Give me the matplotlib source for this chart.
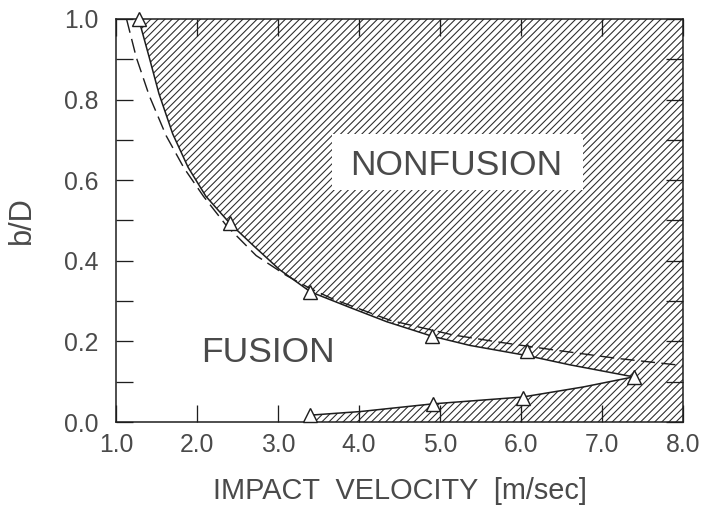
import matplotlib
matplotlib.use("Agg")
import matplotlib.pyplot as plt
from matplotlib.patches import Rectangle
from matplotlib.ticker import MultipleLocator, FormatStrFormatter

# ---- data ----
# measured points (triangles)
upper_pts_v = [1.28, 2.41, 3.40, 4.90, 6.07, 7.39]
upper_pts_b = [1.00, 0.495, 0.323, 0.214, 0.176, 0.112]
lower_pts_v = [3.40, 4.91, 6.02]
lower_pts_b = [0.017, 0.045, 0.059]

# solid boundary curve (upper branch)
upper_curve_v = [1.28, 1.41, 1.53, 1.70, 1.89, 2.11, 2.41, 2.70, 3.02, 3.40,
                 3.89, 4.34, 4.90, 5.37, 6.07, 6.60, 7.39]
upper_curve_b = [1.00, 0.905, 0.815, 0.715, 0.632, 0.560, 0.492, 0.437, 0.378, 0.323,
                 0.284, 0.249, 0.213, 0.190, 0.165, 0.142, 0.112]
# solid boundary curve (lower branch)
lower_curve_v = [3.40, 4.02, 4.91, 6.02, 6.77, 7.39]
lower_curve_b = [0.017, 0.026, 0.045, 0.062, 0.087, 0.112]
# dashed curve
dashed_v = [1.13, 1.25, 1.41, 1.62, 1.84, 2.08, 2.36, 2.73, 3.10, 3.39,
            3.68, 4.39, 5.16, 5.70, 6.40, 7.18, 8.00]
dashed_b = [1.00, 0.905, 0.81, 0.71, 0.63, 0.56, 0.488, 0.413, 0.364, 0.332,
            0.305, 0.252, 0.216, 0.199, 0.179, 0.158, 0.140]

XMIN, XMAX = 1.0, 8.0
YMIN, YMAX = 0.0, 1.0
x_ticks = [1, 2, 3, 4, 5, 6, 7, 8]
y_ticks = [0.0, 0.2, 0.4, 0.6, 0.8, 1.0]

# ---- style ----
DPI = 85
plt.rcParams['font.family'] = ['Liberation Sans', 'DejaVu Sans']
plt.rcParams['hatch.linewidth'] = 0.9
plt.rcParams['hatch.color'] = '#2a2a2a'
TXT = '#4a4a4a'
INK = '#1e1e1e'

fig = plt.figure(figsize=(703 / DPI, 508 / DPI), dpi=DPI)
ax = fig.add_axes([116 / 703, 86 / 508, 567 / 703, 403 / 508])
ax.set_xlim(XMIN, XMAX)
ax.set_ylim(YMIN, YMAX)

# hatched NONFUSION region
poly_v = upper_curve_v + lower_curve_v[::-1] + [lower_curve_v[0], XMAX, XMAX]
poly_b = upper_curve_b + lower_curve_b[::-1] + [YMIN, YMIN, YMAX]
ax.fill(poly_v, poly_b, facecolor='none', edgecolor='#2a2a2a', linewidth=0,
        hatch='////', zorder=1)

# white box behind NONFUSION
ax.add_patch(Rectangle((3.67, 0.575), 3.10, 0.14, facecolor='white',
                       edgecolor='none', zorder=2))

# curves
ax.plot(upper_curve_v, upper_curve_b, color=INK, lw=1.3, zorder=4)
ax.plot(lower_curve_v, lower_curve_b, color=INK, lw=1.3, zorder=4)
ax.plot(dashed_v, dashed_b, color=INK, lw=1.2, dashes=(10, 4.5), zorder=4)

# markers
ax.plot(upper_pts_v, upper_pts_b, ls='none', marker='^', ms=12.5,
        mfc='white', mec=INK, mew=1.2, zorder=5, clip_on=False)
ax.plot(lower_pts_v, lower_pts_b, ls='none', marker='^', ms=12.5,
        mfc='white', mec=INK, mew=1.2, zorder=5, clip_on=False)

# region labels
ax.text(5.20, 0.613, 'NONFUSION', ha='center', va='baseline', fontsize=30,
        color=TXT, zorder=3)
ax.text(2.87, 0.149, 'FUSION', ha='center', va='baseline', fontsize=30,
        color=TXT, zorder=3)

# axes / ticks
for s in ax.spines.values():
    s.set_linewidth(1.3)
    s.set_color(INK)
ax.set_xticks(x_ticks)
ax.xaxis.set_major_formatter(FormatStrFormatter('%.1f'))
ax.set_yticks(y_ticks)
ax.yaxis.set_major_formatter(FormatStrFormatter('%.1f'))
ax.yaxis.set_minor_locator(MultipleLocator(0.1))
ax.tick_params(which='both', direction='in', top=True, right=True,
               length=14, width=1.1, color=INK)
ax.tick_params(axis='x', which='major', pad=9, labelsize=21, labelcolor=TXT)
ax.tick_params(axis='y', which='major', pad=15, labelsize=21, labelcolor=TXT)

ax.set_xlabel('IMPACT  VELOCITY  [m/sec]', fontsize=24.5, color=TXT)
ax.xaxis.label.set_va('center')
ax.xaxis.set_label_coords(0.5, -0.171)
ax.set_ylabel('b/D', fontsize=26, color=TXT)
ax.yaxis.label.set_va('center')
ax.yaxis.label.set_ha('center')
ax.yaxis.set_label_coords(-0.166, 0.5)

fig.savefig('out.png', dpi=DPI)
